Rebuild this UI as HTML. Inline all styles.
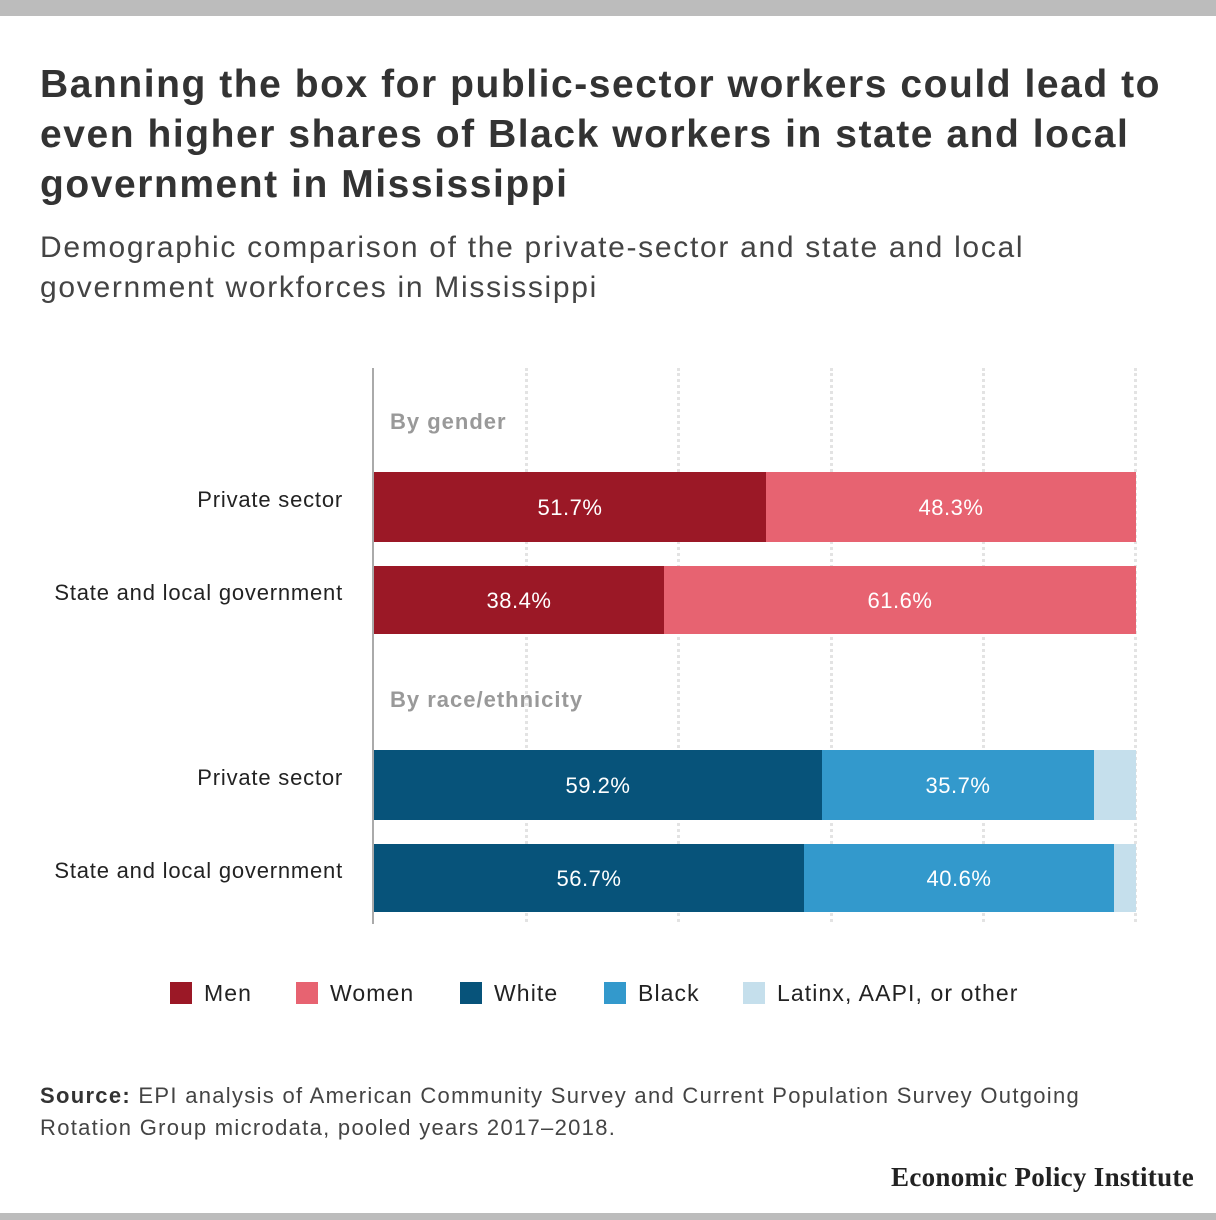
<!DOCTYPE html>
<html><head><meta charset="utf-8"><style>
body{margin:0;width:1216px;height:1220px;background:#fff;font-family:"Liberation Sans",sans-serif;position:relative;overflow:hidden;color:#333}
.a{position:absolute;white-space:nowrap}
.bar{position:absolute;height:70px}
.lbl{position:absolute;color:#fff;font-size:22px;letter-spacing:0.5px;text-align:center;line-height:72px}
.cat{position:absolute;right:873px;font-size:22px;letter-spacing:0.8px;color:#222;white-space:nowrap}
.grid{position:absolute;top:368px;height:554px;width:0;border-left:3px dotted #e3e3e3}
.sw{display:inline-block;width:22px;height:22px;vertical-align:-3px;margin-right:12px}
.lg{position:absolute;top:980px;font-size:23px;letter-spacing:1.1px;color:#222;white-space:nowrap}
</style></head><body>
<div class="a" style="left:0;top:0;width:1216px;height:16px;background:#bcbcbc"></div>
<div class="a" style="left:0;top:1213px;width:1216px;height:7px;background:#bcbcbc"></div>
<div class="a" style="left:40px;top:60px;font-size:39px;letter-spacing:1.55px;font-weight:bold;line-height:50px;color:#333">Banning the box for public-sector workers could lead to<br>even higher shares of Black workers in state and local<br>government in Mississippi</div>
<div class="a" style="left:40px;top:228px;font-size:30px;letter-spacing:1.7px;line-height:40px;color:#444">Demographic comparison of the private-sector and state and local<br>government workforces in Mississippi</div>
<div class="grid" style="left:525px"></div><div class="grid" style="left:677px"></div><div class="grid" style="left:830px"></div><div class="grid" style="left:982px"></div><div class="grid" style="left:1134px"></div>
<div class="a" style="left:372px;top:368px;width:2px;height:556px;background:#aaa"></div>
<div class="a" style="left:390px;top:409px;font-size:22px;letter-spacing:1px;font-weight:bold;color:#999">By gender</div>
<div class="a" style="left:390px;top:687px;font-size:22px;letter-spacing:1px;font-weight:bold;color:#999">By race/ethnicity</div>
<div class="cat" style="top:487px">Private sector</div>
<div class="cat" style="top:580px">State and local government</div>
<div class="cat" style="top:765px">Private sector</div>
<div class="cat" style="top:858px">State and local government</div>
<div class="bar" style="left:374px;top:472px;width:392px;background:#9b1826"></div>
<div class="bar" style="left:766px;top:472px;width:370px;background:#e76371"></div>
<div class="lbl" style="left:374px;top:472px;width:392px">51.7%</div>
<div class="lbl" style="left:766px;top:472px;width:370px">48.3%</div>
<div class="bar" style="left:374px;top:566px;width:290px;height:68px;background:#9b1826"></div>
<div class="bar" style="left:664px;top:566px;width:472px;height:68px;background:#e76371"></div>
<div class="lbl" style="left:374px;top:566px;width:290px;line-height:70px">38.4%</div>
<div class="lbl" style="left:664px;top:566px;width:472px;line-height:70px">61.6%</div>
<div class="bar" style="left:374px;top:750px;width:448px;background:#07537a"></div>
<div class="bar" style="left:822px;top:750px;width:272px;background:#3399cc"></div>
<div class="bar" style="left:1094px;top:750px;width:42px;background:#c5dfec"></div>
<div class="lbl" style="left:374px;top:750px;width:448px">59.2%</div>
<div class="lbl" style="left:822px;top:750px;width:272px">35.7%</div>
<div class="bar" style="left:374px;top:844px;width:430px;height:68px;background:#07537a"></div>
<div class="bar" style="left:804px;top:844px;width:310px;height:68px;background:#3399cc"></div>
<div class="bar" style="left:1114px;top:844px;width:22px;height:68px;background:#c5dfec"></div>
<div class="lbl" style="left:374px;top:844px;width:430px;line-height:70px">56.7%</div>
<div class="lbl" style="left:804px;top:844px;width:310px;line-height:70px">40.6%</div>
<div class="lg" style="left:170px"><span class="sw" style="background:#9b1826"></span>Men</div>
<div class="lg" style="left:296px"><span class="sw" style="background:#e76371"></span>Women</div>
<div class="lg" style="left:460px"><span class="sw" style="background:#07537a"></span>White</div>
<div class="lg" style="left:604px"><span class="sw" style="background:#3399cc"></span>Black</div>
<div class="lg" style="left:743px"><span class="sw" style="background:#c5dfec"></span>Latinx, AAPI, or other</div>
<div class="a" style="left:40px;top:1080px;font-size:22px;letter-spacing:1.3px;line-height:32px;color:#444"><b style="color:#333">Source:</b> EPI analysis of American Community Survey and Current Population Survey Outgoing<br>Rotation Group microdata, pooled years 2017–2018.</div>
<div class="a" style="right:22px;top:1162px;font-family:'Liberation Serif',serif;font-weight:bold;font-size:27px;letter-spacing:0.3px;color:#222">Economic Policy Institute</div>
</body></html>
